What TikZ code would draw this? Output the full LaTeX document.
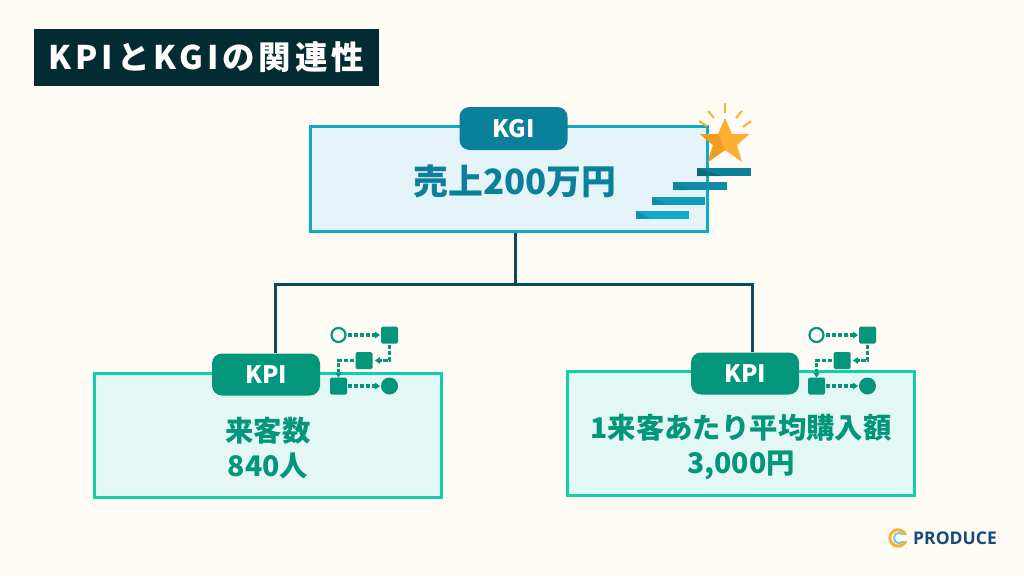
\documentclass[tikz,border=0pt]{standalone}
\usepackage{fontspec}
\setmainfont{Noto Sans CJK JP}
\newfontfamily\logofont{Open Sans}
\newfontfamily\titlefont[LetterSpace=12]{Noto Sans CJK JP}
\usetikzlibrary{positioning}
\definecolor{paper}{HTML}{FFFBF5}
\definecolor{navy}{HTML}{032B33}
\definecolor{linkcol}{HTML}{0B4A5E}
\definecolor{kgiline}{HTML}{12A9C4}
\definecolor{kgifill}{HTML}{E5F4F8}
\definecolor{kgidark}{HTML}{0A809B}
\definecolor{kpiline}{HTML}{0FD0AB}
\definecolor{kpifill}{HTML}{E3F8F4}
\definecolor{kpidark}{HTML}{03967B}
\definecolor{stara}{HTML}{FBB034}
\definecolor{starb}{HTML}{F39C25}
\definecolor{logoblue}{HTML}{16497C}
\tikzset{
 goalbox/.style={draw=#1,line width=3pt,inner sep=0pt},
 badge/.style={fill=#1,rounded corners=10pt,text=white,inner sep=0pt,minimum width=108pt,minimum height=42pt,font=\bfseries\fontsize{24}{28}\selectfont},
 kpitext/.style={text=kpidark,align=center,inner sep=0pt,font=\bfseries\fontsize{28.4}{35}\selectfont},
 link/.style={draw=linkcol,line width=3pt},
 flowdash/.style={draw=kpidark,line width=3.6pt,dash pattern=on 4.4pt off 1.6pt},
 flowtip/.style={fill=kpidark},
 flowsq/.style={fill=kpidark,rounded corners=1.5pt},
 ray/.style={draw=stara,line width=2pt},
 pics/flowicon/.style={code={
  \draw[draw=kpidark,line width=2.2pt,fill=paper] (-25.5,-25.5) circle (7pt);
  \fill[flowsq] (17,-34) rectangle (34,-17);
  \fill[flowsq] (-8.5,-8.5) rectangle (8.5,8.5);
  \fill[flowsq] (-34,17) rectangle (-17,34);
  \fill[kpidark] (25.5,25.5) circle (8.5pt);
  \draw[flowdash] (-16.5,-25.5) -- (11,-25.5);
  \fill[flowtip] (11,-29) -- (16,-25.5) -- (11,-22) -- cycle;
  \draw[flowdash] (25.5,-16) -- (25.5,0) -- (16,0);
  \fill[flowtip] (16,-3.5) -- (11,0) -- (16,3.5) -- cycle;
  \draw[flowdash] (-10,0) -- (-25.5,0) -- (-25.5,11);
  \fill[flowtip] (-29,12) -- (-25.5,17) -- (-22,12) -- cycle;
  \draw[flowdash] (-16.5,25.5) -- (11,25.5);
  \fill[flowtip] (11,22) -- (16,25.5) -- (11,29) -- cycle;
 }}
}
\begin{document}
\begin{tikzpicture}[x=1pt,y=-1pt]
 \useasboundingbox[fill=paper] (0,0) rectangle (1024,576);

 % heading
 \node[fill=navy,text=white,minimum width=345pt,minimum height=57pt,inner sep=0pt,font=\titlefont\bfseries\fontsize{32.5}{36}\selectfont] (title) at (206.5,57.5) {KPIとKGIの関連性};

 % boxes
 \node[goalbox=kgiline,fill=kgifill,minimum width=397pt,minimum height=105pt] (kgibox) at (509,179) {};
 \node[text=kgidark,inner sep=0pt,font=\bfseries\fontsize{34.8}{40}\selectfont] (kgitext) at (515,181) {売上200万円};
 \node[goalbox=kpiline,fill=kpifill,minimum width=347pt,minimum height=124pt] (kpileft) at (268,435.5) {};
 \node[kpitext] (kpilefttext) at (268,448) {来客数\\840人};
 \node[goalbox=kpiline,fill=kpifill,minimum width=347pt,minimum height=124pt] (kpiright) at (741,433.5) {};
 \node[kpitext] (kpirighttext) at (741,447) {1来客あたり平均購入額\\3,000円};

 % tree
 \coordinate (joint) at (515,284);
 \coordinate (turnleft) at (275,284);
 \coordinate (turnright) at (752,284);
 \node[badge=kpidark] (badgeleft) at (266,374.5) {KPI};
 \node[badge=kpidark] (badgeright) at (745,373.5) {KPI};
 \draw[link] (kgibox.south -| joint) -- (joint);
 \draw[link,line cap=rect] (turnleft) -- (turnright);
 \draw[link] (turnleft) -- (turnleft |- badgeleft.north);
 \draw[link] (turnright) -- (turnright |- badgeright.north);
 \node[badge=kgidark,minimum height=43pt] (badgetop) at (513.5,128.5) {KGI};

 % flow icons
 \pic at (364,360.5) {flowicon};
 \pic at (842,360.5) {flowicon};

 % stairs
 \fill[kgiline] (636,211) rectangle (689,218.5);
 \fill[kgidark!30!kgiline] (652,197) rectangle (705,204.5);
 \fill[kgidark!70!kgiline] (673,182) rectangle (727,190);
 \fill[kgidark] (697,168) rectangle (751,176);
 \fill[kgidark,opacity=.6] (636,211) -- (650,218.5) -- (636,218.5) -- cycle;
 \fill[kgidark,opacity=.6] (652,197) -- (666,204.5) -- (652,204.5) -- cycle;
 \fill[kgidark,opacity=.6] (673,182) -- (690,190) -- (673,190) -- cycle;
 \fill[black!30!kgidark,opacity=.6] (697,168) -- (722,176) -- (697,176) -- cycle;

 % star and rays
 \fill[stara] (725,118) -- (732,134) -- (749.5,134) -- (737,145) -- (742,162) -- (725,150) -- (708,162) -- (713,145) -- (700,134) -- (718,134) -- cycle;
 \fill[starb] (700,134) -- (718,134) -- (725,150) -- (708,162) -- (713,145) -- cycle;
 \draw[ray] (725,103) -- (725,112.5);
 \draw[ray] (708,111) -- (714,118);
 \draw[ray] (742,111) -- (736,118);
 \draw[ray] (699,121) -- (707,126);
 \draw[ray] (751,121) -- (743,127);

 % logo
 \draw[draw=stara,line width=3pt] (898,538) circle (8.2pt);
 \draw[draw=kgiline!60,line width=2pt] (899,538) circle (5.2pt);
 \fill[paper] (902,535) rectangle (909,541);
 \node[text=logoblue,inner sep=0pt,font=\logofont\bfseries\fontsize{17.5}{20}\selectfont] (logo) at (955,538) {PRODUCE};
\end{tikzpicture}
\end{document}
